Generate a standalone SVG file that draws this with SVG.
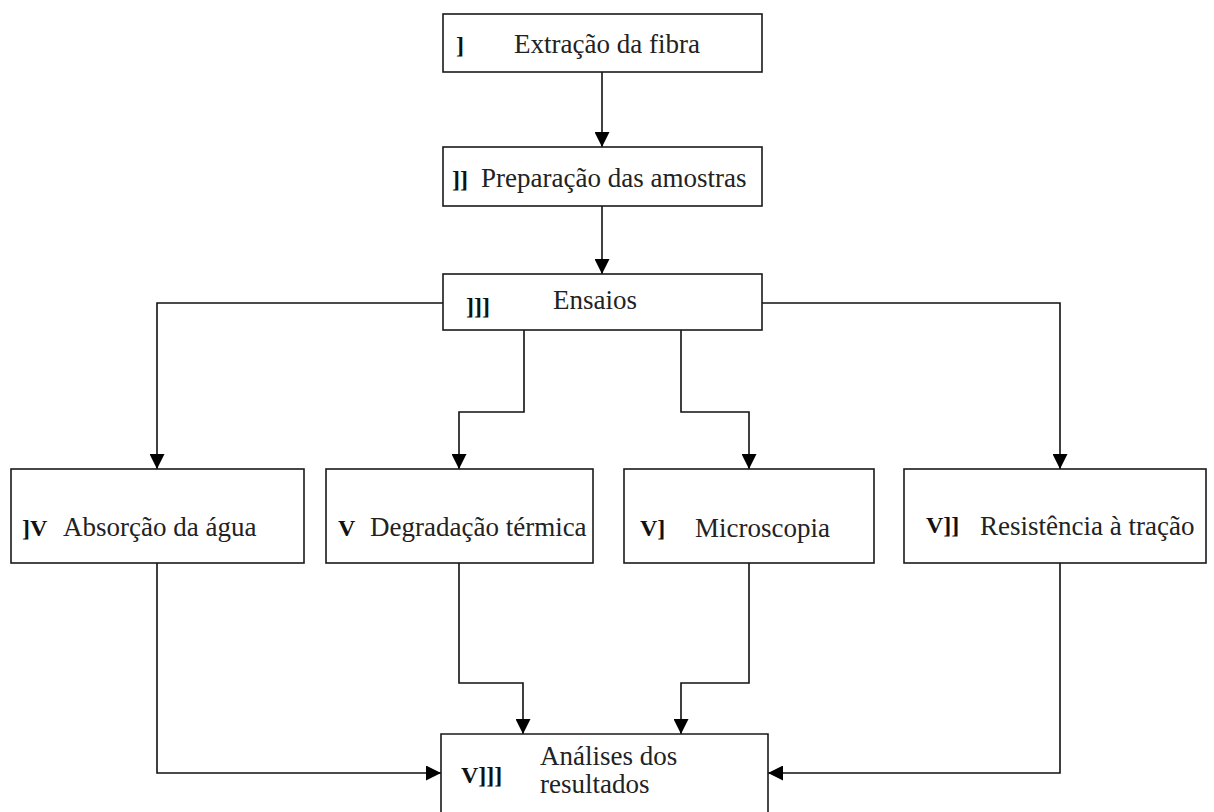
<svg xmlns="http://www.w3.org/2000/svg" width="1214" height="812" viewBox="0 0 1214 812">
<defs>
<style>
.box{fill:#fff;stroke:#1a1a1a;stroke-width:1.6}
.t{font-family:"Liberation Serif","Times New Roman",serif;font-size:27px;fill:#222}
.n{font-family:"Liberation Serif","Times New Roman",serif;font-size:24px;font-weight:bold;fill:#111}
.c{fill:none;stroke:#111;stroke-width:1.6}
</style>
<marker id="ah" viewBox="0 0 10 10" refX="10" refY="5" markerUnits="userSpaceOnUse" markerWidth="16" markerHeight="15" orient="auto">
<path d="M0,0 L10,5 L0,10 z" fill="#000"/>
</marker>
</defs>
<rect width="1214" height="812" fill="#fff"/>
<g id="connectors">
<path class="c" d="M602,72 V147" marker-end="url(#ah)"/>
<path class="c" d="M602,206 V274" marker-end="url(#ah)"/>
<path class="c" d="M443,303 H157 V469" marker-end="url(#ah)"/>
<path class="c" d="M762,303 H1060 V469" marker-end="url(#ah)"/>
<path class="c" d="M524,330 V412 H459 V469" marker-end="url(#ah)"/>
<path class="c" d="M681,330 V412 H749 V469" marker-end="url(#ah)"/>
<path class="c" d="M157,563 V773 H441" marker-end="url(#ah)"/>
<path class="c" d="M1060,563 V773 H768" marker-end="url(#ah)"/>
<path class="c" d="M459,563 V683 H523 V734" marker-end="url(#ah)"/>
<path class="c" d="M749,563 V683 H681 V734" marker-end="url(#ah)"/>
</g>
<g id="n1">
<rect class="box" x="443" y="14" width="319" height="58"/>
<text class="n" x="456" y="53">]</text>
<text class="t" x="514" y="53">Extração da fibra</text>
</g>
<g id="n2">
<rect class="box" x="443" y="147" width="319" height="59"/>
<text class="n" x="452" y="187">]]</text>
<text class="t" x="481" y="187">Preparação das amostras</text>
</g>
<g id="n3">
<rect class="box" x="443" y="274" width="319" height="56"/>
<text class="n" x="466" y="314">]]]</text>
<text class="t" x="553" y="309">Ensaios</text>
</g>
<g id="n4">
<rect class="box" x="11" y="469" width="293" height="94"/>
<text class="n" x="22" y="536">]V</text>
<text class="t" x="63" y="536">Absorção da água</text>
</g>
<g id="n5">
<rect class="box" x="326" y="469" width="267" height="94"/>
<text class="n" x="338" y="536" font-weight="normal">V</text>
<text class="t" x="370" y="536">Degradação térmica</text>
</g>
<g id="n6">
<rect class="box" x="624" y="469" width="250" height="94"/>
<text class="n" x="640" y="536">V]</text>
<text class="t" x="695" y="537">Microscopia</text>
</g>
<g id="n7">
<rect class="box" x="904" y="469" width="302" height="94"/>
<text class="n" x="926" y="533">V]]</text>
<text class="t" x="980" y="535">Resistência à tração</text>
</g>
<g id="n8">
<path class="box" d="M441,814 V734 H768 V814"/>
<text class="n" x="461" y="783">V]]]</text>
<text class="t" x="540" y="765">Análises dos</text>
<text class="t" x="540" y="793">resultados</text>
</g>
</svg>
